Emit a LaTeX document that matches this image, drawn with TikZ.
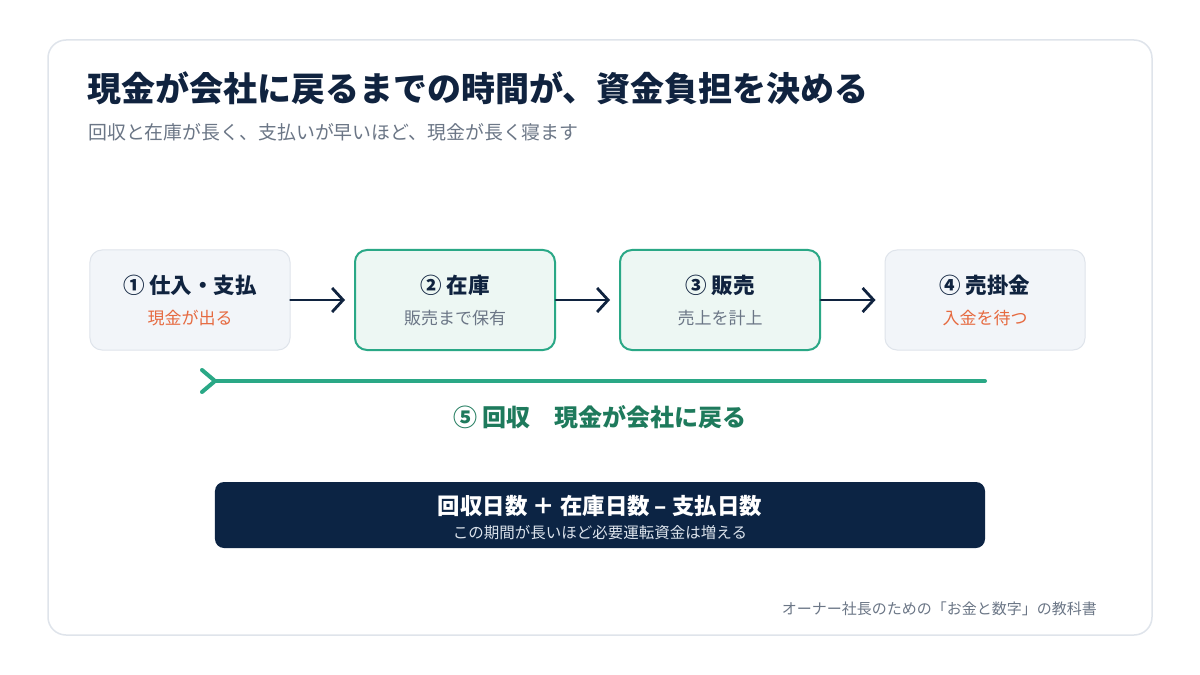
\documentclass[tikz,border=0pt]{standalone}
\usepackage{fontspec}
\setmainfont{Noto Sans CJK JP}
\usepackage{xcolor}
\usetikzlibrary{arrows.meta,positioning}

\definecolor{navy}{HTML}{10233F}
\definecolor{navybox}{HTML}{0C2444}
\definecolor{teal}{HTML}{2AA886}
\definecolor{tealdark}{HTML}{1E7A5C}
\definecolor{mint}{HTML}{EDF7F3}
\definecolor{paleblue}{HTML}{F2F5F9}
\definecolor{edgegray}{HTML}{DFE4EB}
\definecolor{textgray}{HTML}{6B7686}
\definecolor{accent}{HTML}{E66A40}
\definecolor{pale}{HTML}{DCE3EC}

\begin{document}
\begin{tikzpicture}[
        x=1bp,
        y=-1bp,
        card/.style={draw=edgegray, line width=1.5bp, fill=white, rounded corners=18bp},
        stage/.style={
            draw=edgegray,
            line width=1bp,
            fill=paleblue,
            rounded corners=12bp,
            minimum width=200bp,
            minimum height=100bp,
            inner sep=0pt
        },
        stagehot/.style={stage, draw=teal, line width=2bp, fill=mint},
        stagetitle/.style={text=navy, font=\fontsize{21.5bp}{25bp}\selectfont\bfseries, inner sep=0pt},
        stagesub/.style={font=\fontsize{17bp}{20bp}\selectfont, inner sep=0pt},
        flow/.style={-{Straight Barb[length=11bp, width=24bp]}, line width=2.8bp, draw=navy, line cap=round, shorten >=9bp},
        back/.style={line width=4bp, draw=teal, line cap=round, line join=miter}
    ]
        % Canvas, card and headings.
        \useasboundingbox (0,0) rectangle (1200,675);
        \fill[white] (0,0) rectangle (1200,675);
        \draw[card] (48,40) rectangle (1152,635);

        \node[anchor=west, inner sep=0pt, text=navy, font=\fontsize{34bp}{40bp}\selectfont\bfseries] (title) at (87,88) {現金が会社に戻るまでの時間が、資金負担を決める};
        \node[anchor=west, inner sep=0pt, text=textgray, font=\fontsize{18.9bp}{22bp}\selectfont] (subtitle) at (88,132) {回収と在庫が長く、支払いが早いほど、現金が長く寝ます};

        % The four stages of the cash cycle.
        \node[stage] (b1) at (190,300) {};
        \node[stagehot] (b2) at (455,300) {};
        \node[stagehot] (b3) at (720,300) {};
        \node[stage] (b4) at (985,300) {};

        \node[stagetitle] (b1-t) at ([yshift=15bp]b1.center) {① 仕入・支払};
        \node[stagesub, text=accent] (b1-s) at ([yshift=-18bp]b1.center) {現金が出る};
        \node[stagetitle] (b2-t) at ([yshift=15bp]b2.center) {② 在庫};
        \node[stagesub, text=textgray] (b2-s) at ([yshift=-18bp]b2.center) {販売まで保有};
        \node[stagetitle] (b3-t) at ([yshift=15bp]b3.center) {③ 販売};
        \node[stagesub, text=textgray] (b3-s) at ([yshift=-18bp]b3.center) {売上を計上};
        \node[stagetitle] (b4-t) at ([yshift=15bp]b4.center) {④ 売掛金};
        \node[stagesub, text=accent] (b4-s) at ([yshift=-18bp]b4.center) {入金を待つ};

        \draw[flow] (b1.east) -- (b2.west);
        \draw[flow] (b2.east) -- (b3.west);
        \draw[flow] (b3.east) -- (b4.west);

        % Cash coming back.
        \coordinate (ret-from) at (985,381);
        \coordinate (ret-to) at (215,381);
        \draw[back] (ret-from) -- (ret-to);
        \draw[back] ([shift={(-13,-11)}]ret-to) -- (ret-to) -- ([shift={(-13,11)}]ret-to);
        \node[inner sep=0pt, text=tealdark, font=\fontsize{24bp}{28bp}\selectfont\bfseries] (ret-label) at (600,417) {⑤ 回収\quad 現金が会社に戻る};

        % Formula bar.
        \node[fill=navybox, rounded corners=9bp, minimum width=770bp, minimum height=66bp, inner sep=0pt] (formula) at (600,515) {};
        \node[inner sep=0pt, text=white, font=\fontsize{22.4bp}{26bp}\selectfont\bfseries] (formula-t) at ([yshift=9bp]formula.center) {回収日数 ＋ 在庫日数 – 支払日数};
        \node[inner sep=0pt, text=pale, font=\fontsize{15.5bp}{18bp}\selectfont] (formula-s) at ([yshift=-18bp]formula.center) {この期間が長いほど必要運転資金は増える};

        \node[anchor=east, inner sep=0pt, text=textgray, font=\fontsize{15bp}{18bp}\selectfont] (footer) at (1097,609) {オーナー社長のための「お金と数字」の教科書};

    \end{tikzpicture}
\end{document}
